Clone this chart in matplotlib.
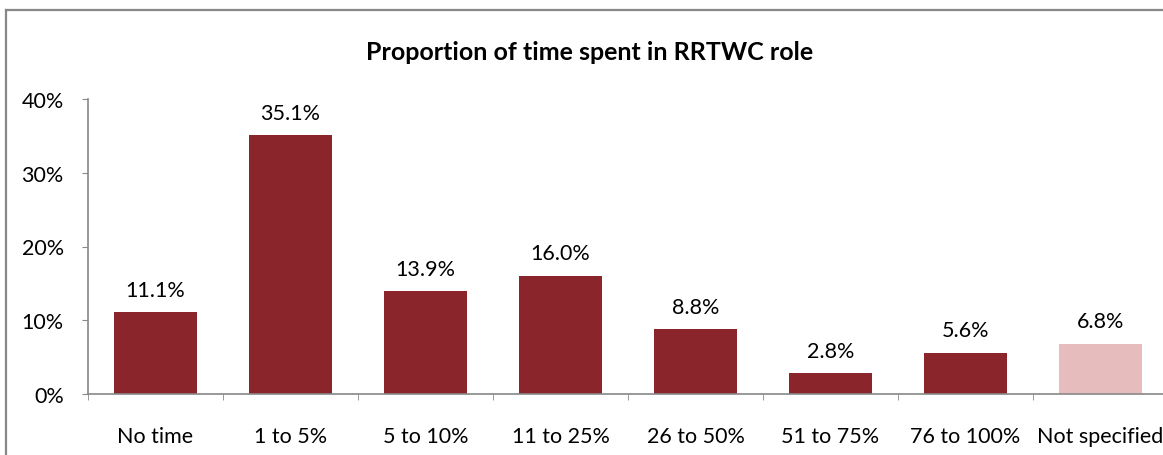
import matplotlib
matplotlib.use("Agg")
import matplotlib.pyplot as plt
from matplotlib.lines import Line2D
from matplotlib.ticker import FixedLocator, FuncFormatter

categories = ["No time", "1 to 5%", "5 to 10%", "11 to 25%", "26 to 50%",
              "51 to 75%", "76 to 100%", "Not specified"]
values = [11.1, 35.1, 13.9, 16.0, 8.8, 2.8, 5.6, 6.8]
labels = ["11.1%", "35.1%", "13.9%", "16.0%", "8.8%", "2.8%", "5.6%", "6.8%"]
yticks = [0, 10, 20, 30, 40]
title = "Proportion of time spent in RRTWC role"

dark = "#8B252C"
light = "#E6BCBC"
colors = [dark] * 7 + [light]

plt.rcParams['font.family'] = ['Lato', 'DejaVu Sans']

W, H = 1163, 456
fig = plt.figure(figsize=(W / 100, H / 100), dpi=100)
ax = fig.add_axes([88 / W, (H - 395) / H, (1168 - 88) / W, 295 / H])

x = list(range(len(categories)))
ax.bar(x, values, width=0.62, color=colors, zorder=2)
for xi, v, lab in zip(x, values, labels):
    ax.annotate(lab, (xi, v), xytext=(0, 9), textcoords="offset points",
                ha="center", va="bottom", fontsize=15.5, color="black")

ax.set_xlim(-0.5, len(categories) - 0.5)
ax.set_ylim(0, 40)
ax.set_yticks(yticks)
ax.yaxis.set_major_formatter(FuncFormatter(lambda v, p: f"{v:.0f}%"))
ax.set_xticks(x)
ax.set_xticklabels(categories)
ax.xaxis.set_minor_locator(FixedLocator([i - 0.5 for i in range(len(categories) + 1)]))
ax.tick_params(axis="x", which="major", length=0, pad=23, labelsize=15.5)
ax.tick_params(axis="x", which="minor", length=4, color="#888888", direction="out")
ax.tick_params(axis="y", length=4.5, color="#888888", pad=13, labelsize=15.5)

for s in ["top", "right"]:
    ax.spines[s].set_visible(False)
for s in ["left", "bottom"]:
    ax.spines[s].set_color("#888888")
    ax.spines[s].set_linewidth(1.2)

fig.text(590 / W, 1 - 52 / H, title, ha="center", va="center",
         fontsize=18, fontweight="bold")

# chart border
fig.add_artist(Line2D([6 / W, 1], [1 - 11 / H, 1 - 11 / H], transform=fig.transFigure,
                      color="#888888", lw=1.6))
fig.add_artist(Line2D([6 / W, 6 / W], [0, 1 - 11 / H], transform=fig.transFigure,
                      color="#888888", lw=1.6))

fig.savefig("out.png", dpi=100)
